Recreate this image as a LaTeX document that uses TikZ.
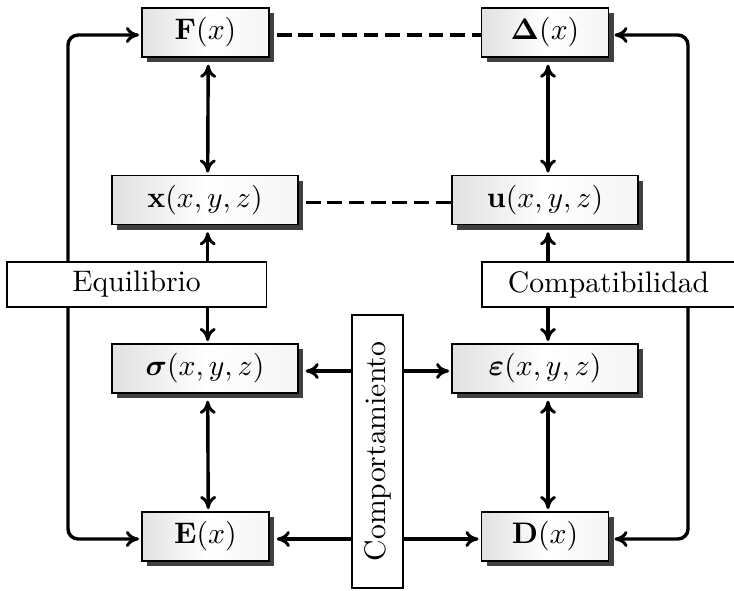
\documentclass[tikz,border=0pt]{standalone}
\usepackage{amsmath}
\usetikzlibrary{arrows.meta,shadows,calc,backgrounds}
\begin{document}
\begin{tikzpicture}[x=0.3367pt,y=-0.3367pt,
  box/.style={draw, line width=0.6pt, inner sep=0pt, outer sep=1pt, minimum height=16.5pt,
    left color=black!12, right color=black!4, middle color=white,
    drop shadow={shadow xshift=1.8pt, shadow yshift=-1.7pt, fill=black!75, opacity=1}},
  sbox/.style={box, minimum width=42.8pt},
  lbox/.style={box, minimum width=62.6pt},
  tag/.style={draw, line width=0.6pt, fill=white, inner sep=0pt, outer sep=0pt, minimum height=15.2pt},
  conn/.style={line width=1.15pt, >={Computer Modern Rightarrow[length=4.4pt,width=5.4pt,line width=1pt]}},
  dashline/.style={line width=1.15pt, dash pattern=on 5pt off 2.3pt},
  sgap/.style={shorten >=1.6pt},
  tgap/.style={shorten <=1.6pt}
]
\useasboundingbox (0,0) rectangle (734,590);

% boxes
\node[sbox] (F)  at (205.5,32.5)  {$\mathbf{F}(x)$};
\node[sbox] (Dl) at (545,32.5)    {$\mathbf{\Delta}(x)$};
\node[lbox] (X)  at (205,200)     {$\mathbf{x}(x,y,z)$};
\node[lbox] (U)  at (545,200)     {$\mathbf{u}(x,y,z)$};
\node[lbox] (S)  at (205,368.5)   {$\boldsymbol{\sigma}(x,y,z)$};
\node[lbox] (Ep) at (545,368.5)   {$\boldsymbol{\varepsilon}(x,y,z)$};
\node[sbox] (E)  at (205.5,536.5) {$\mathbf{E}(x)$};
\node[sbox] (D)  at (545,536.5)   {$\mathbf{D}(x)$};

% labels
\node[tag, minimum width=87.5pt] (Eq) at (136.6,284.5) {Equilibrio};
\node[tag, minimum width=85.2pt] (Co) at (608.5,284.5) {Compatibilidad};
\node[tag, minimum width=17pt, minimum height=91.9pt] (Cm) at (377.5,451.5) {\rotatebox{90}{Comportamiento}};

% anchor helpers
\coordinate (Fs)  at ($(F.south)+(2.7,0)$);
\coordinate (Xn)  at ($(X.north)+(2.7,0)$);
\coordinate (Xs)  at ($(X.south)+(2.7,0)$);
\coordinate (Sn)  at ($(S.north)+(2.7,0)$);
\coordinate (Ss)  at ($(S.south)+(2.7,0)$);
\coordinate (En)  at ($(E.north)+(2.7,0)$);
\coordinate (Dls) at ($(Dl.south)+(3,0)$);
\coordinate (Un)  at ($(U.north)+(3,0)$);
\coordinate (Us)  at ($(U.south)+(3,0)$);
\coordinate (Epn) at ($(Ep.north)+(3,0)$);
\coordinate (Eps) at ($(Ep.south)+(3,0)$);
\coordinate (Dn)  at ($(D.north)+(3,0)$);
\coordinate (Fw)  at ($(F.west)+(0,2.5)$);
\coordinate (Fe)  at ($(F.east)+(0,2.5)$);
\coordinate (Dlw) at ($(Dl.west)+(0,2.5)$);
\coordinate (Dle) at ($(Dl.east)+(0,2.5)$);
\coordinate (Xe)  at ($(X.east)+(0,2.5)$);
\coordinate (Uw)  at ($(U.west)+(0,2.5)$);
\coordinate (Se)  at ($(S.east)+(0,2.5)$);
\coordinate (Epw) at ($(Ep.west)+(0,2.5)$);
\coordinate (Ee)  at ($(E.east)+(0,2.5)$);
\coordinate (Ew)  at ($(E.west)+(0,2.5)$);
\coordinate (Dw)  at ($(D.west)+(0,2.5)$);
\coordinate (De)  at ($(D.east)+(0,2.5)$);
\coordinate (Lc)  at (68,0);
\coordinate (Rc)  at (688,0);

\begin{pgfonlayer}{background}
  \draw[conn, <->, tgap] (Fs) -- (Xn);
  \draw[conn, ->, sgap] (Eq.north -| Xs) -- (Xs);
  \draw[conn, ->] (Eq.south -| Sn) -- (Sn);
  \draw[conn, <->, tgap] (Ss) -- (En);
  \draw[conn, <->, tgap] (Dls) -- (Un);
  \draw[conn, ->, sgap] (Co.north -| Us) -- (Us);
  \draw[conn, ->] (Co.south -| Epn) -- (Epn);
  \draw[conn, <->, tgap] (Eps) -- (Dn);
  \draw[conn, ->, sgap] (Cm.west |- Se) -- (Se);
  \draw[conn, ->] (Cm.east |- Epw) -- (Epw);
  \draw[conn, ->, sgap] (Cm.west |- Ee) -- (Ee);
  \draw[conn, ->] (Cm.east |- Dw) -- (Dw);
  \draw[conn, <->, rounded corners=3.4pt] (Fw) -| (Lc |- Ew) -- (Ew);
  \draw[conn, <->, rounded corners=3.4pt, shorten <=1pt, shorten >=1pt] (Dle) -| (Rc |- De) -- (De);
  \draw[dashline, shorten <=1.6pt, shorten >=-1pt] (Fe) -- (Dlw);
  \draw[dashline, shorten <=1.6pt, shorten >=-1pt] (Xe) -- (Uw);
\end{pgfonlayer}
\end{tikzpicture}
\end{document}
